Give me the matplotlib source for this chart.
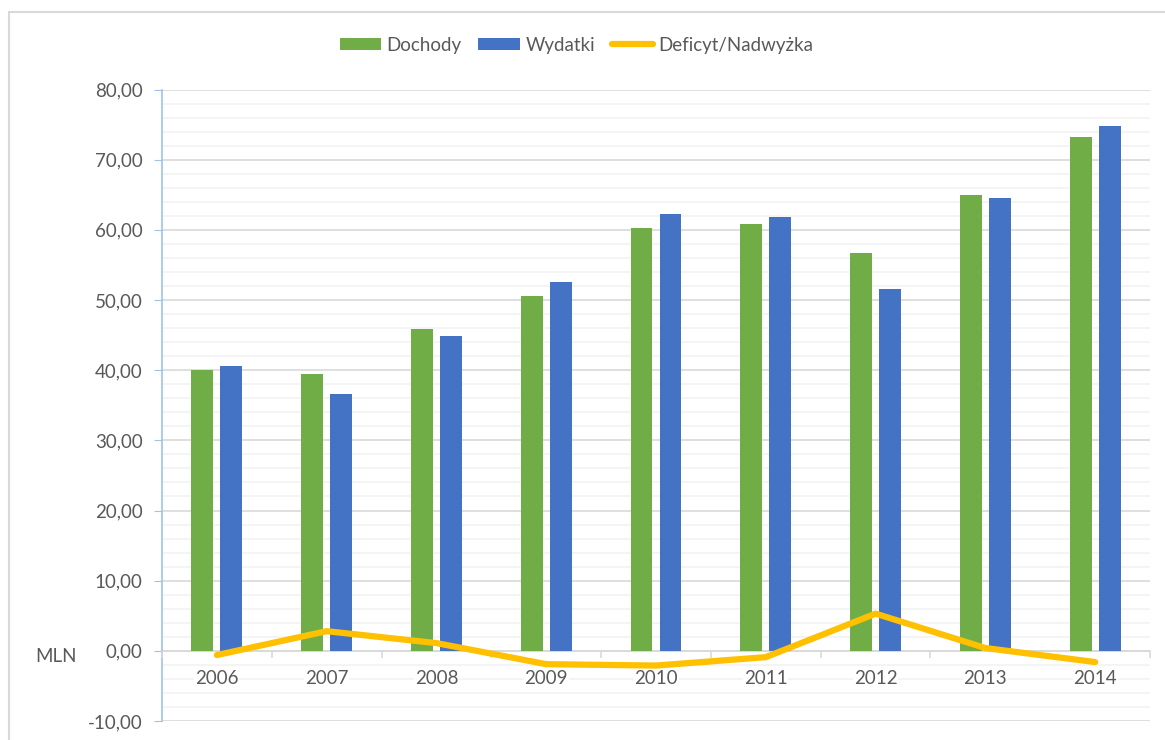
import matplotlib.pyplot as plt
import matplotlib.patches as mpatches
import numpy as np
from matplotlib.ticker import MultipleLocator, FixedLocator

# data
lata = ['2006', '2007', '2008', '2009', '2010', '2011', '2012', '2013', '2014']
dochody = [40.0, 39.4, 45.9, 50.5, 60.2, 60.8, 56.7, 64.9, 73.2]
wydatki = [40.6, 36.6, 44.9, 52.5, 62.3, 61.8, 51.5, 64.5, 74.8]
deficyt = [-0.6, 2.8, 1.1, -1.9, -2.1, -0.9, 5.3, 0.4, -1.6]

plt.rcParams['font.family'] = ['Lato', 'DejaVu Sans']
txt = '#595959'

fig = plt.figure(figsize=(11.65, 7.4), dpi=100)
ax = fig.add_axes([162 / 1165, 1 - 721 / 740, (1150 - 162) / 1165, (721 - 89.5) / 740])

x = np.arange(len(lata))
b1 = ax.bar(x - 0.132, dochody, width=0.2, color='#70AD47', label='Dochody', zorder=3)
b2 = ax.bar(x + 0.132, wydatki, width=0.2, color='#4472C4', label='Wydatki', zorder=3)
l1, = ax.plot(x, deficyt, color='#FFC000', lw=4.5, solid_capstyle='round',
              solid_joinstyle='round', label='Deficyt/Nadwyżka', zorder=6)

ax.set_xlim(-0.5, len(lata) - 0.5)
ax.set_ylim(-10, 80)

# y axis
ax.yaxis.set_major_locator(MultipleLocator(10))
ax.yaxis.set_minor_locator(MultipleLocator(2))
ax.yaxis.set_major_formatter(plt.FuncFormatter(lambda v, p: f'{v:.2f}'.replace('.', ',')))
ax.tick_params(axis='y', which='major', length=6, color='#9DC3E6', labelsize=13.5,
               labelcolor=txt, pad=8)
ax.tick_params(axis='y', which='minor', length=0)
ax.grid(axis='y', which='major', color='#D9D9D9', lw=1.2, zorder=0)
ax.grid(axis='y', which='minor', color='#F2F2F2', lw=1.2, zorder=0)
ax.yaxis.set_zorder(0.5)

# x axis at zero, labels drawn over the gridlines
ax.spines['bottom'].set_position(('data', 0))
ax.spines['bottom'].set_color('#D9D9D9')
ax.spines['bottom'].set_linewidth(1.2)
ax.spines['bottom'].set_zorder(2)
ax.set_xticks(x)
ax.set_xticklabels(lata)
ax.xaxis.set_minor_locator(FixedLocator(np.arange(-0.5, len(lata), 1)))
ax.tick_params(axis='x', which='major', length=0, labelsize=13.5, labelcolor=txt, pad=14)
ax.tick_params(axis='x', which='minor', length=5, color='#D9D9D9', width=1.2, direction='out')
ax.xaxis.set_zorder(5)
for lbl in ax.get_xticklabels():
    lbl.set_bbox(dict(facecolor='white', edgecolor='none', pad=0.5))

ax.spines['left'].set_color('#9DC3E6')
ax.spines['left'].set_linewidth(1.2)
ax.spines['top'].set_visible(False)
ax.spines['right'].set_visible(False)

fig.text(56 / 1165, 1 - 657 / 740, 'MLN', fontsize=13.5, color=txt, ha='center', va='center')

fig.legend([b1, b2, l1], ['Dochody', 'Wydatki', 'Deficyt/Nadwyżka'],
           loc='center', bbox_to_anchor=(0.495, 1 - 45 / 740), ncol=3, frameon=False,
           fontsize=13.5, labelcolor=txt, handlelength=2.2, handleheight=0.6,
           handletextpad=0.3, columnspacing=0.9)

# chart frame
fig.patches.append(mpatches.Rectangle((9 / 1165, -0.05), 1.2, 1 - 12 / 740 + 0.05,
                                      transform=fig.transFigure, fill=False,
                                      edgecolor='#D9D9D9', lw=1.5))

fig.savefig('out.png', dpi=100)
